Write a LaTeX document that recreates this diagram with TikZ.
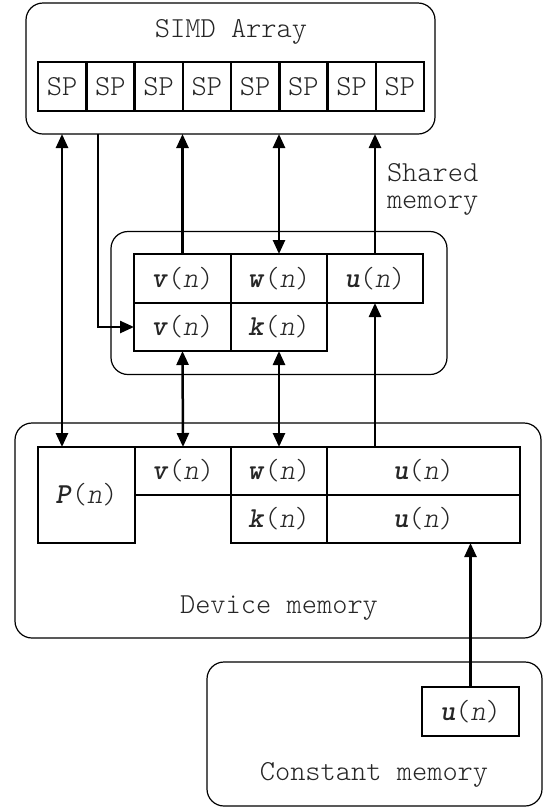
\documentclass[tikz,border=0pt]{standalone}
\usepackage{fontspec}
\setmainfont{lmmonolt10-regular}[Extension=.otf, ItalicFont=lmmonolt10-oblique, BoldFont=lmmonolt10-bold, BoldItalicFont=lmmonolt10-boldoblique]
\usetikzlibrary{arrows.meta}
\newcommand\bvn[1]{\textbf{\textit{#1}}(\textit{n})}
\begin{document}
\begin{tikzpicture}[x=1pt,y=-1pt,
  every node/.style={font=\fontsize{29}{27}\selectfont, inner sep=0pt, outer sep=0pt, text=black!85},
  cell/.style={draw, line width=2.5pt, rectangle},
  region/.style={draw, line width=1.2pt, rounded corners=17pt, rectangle},
  conn/.style={line width=2.5pt, -{Triangle[length=14pt,width=12pt]}},
  dconn/.style={line width=2.5pt, {Triangle[length=14pt,width=12pt]}-{Triangle[length=14pt,width=12pt]}}]
\fill[white] (0,0) rectangle (551,807);
\useasboundingbox (0,0) rectangle (551,807);

% SIMD array
\node[region, minimum width=409pt, minimum height=131pt] (simd) at (230.5,68.5) {};
\node (simdt) at (231,32) {SIMD Array};
\foreach \i in {1,...,8}{
  \node[cell, minimum width=48.25pt, minimum height=49pt] (sp\i) at ({38+48.25*(\i-0.5)},86.5) {SP};
}

% Shared memory
\node[region, minimum width=336pt, minimum height=143pt] (shared) at (279,303) {};
\node[anchor=west, align=left] (sharedt) at (387,189) {Shared\\memory};
\node[cell, minimum width=97pt, minimum height=49pt] (sv1) at (182.5,278.5) {\bvn{v}};
\node[cell, minimum width=96pt, minimum height=49pt] (sw) at (279,278.5) {\bvn{w}};
\node[cell, minimum width=96pt, minimum height=49pt] (su) at (375,278.5) {\bvn{u}};
\node[cell, minimum width=97pt, minimum height=48pt] (sv2) at (182.5,327) {\bvn{v}};
\node[cell, minimum width=96pt, minimum height=48pt] (sk) at (279,327) {\bvn{k}};

% Device memory
\node[region, minimum width=526pt, minimum height=215pt] (device) at (278,530.5) {};
\node (devicet) at (279,608) {Device memory};
\node[cell, minimum width=97pt, minimum height=96pt] (P) at (86.5,495) {\bvn{P}};
\node[cell, minimum width=96pt, minimum height=48pt] (dv) at (183,471) {\bvn{v}};
\node[cell, minimum width=96pt, minimum height=48pt] (dw) at (279,471) {\bvn{w}};
\node[cell, minimum width=193pt, minimum height=48pt] (du1) at (423.5,471) {\bvn{u}};
\node[cell, minimum width=96pt, minimum height=48pt] (dk) at (279,519) {\bvn{k}};
\node[cell, minimum width=193pt, minimum height=48pt] (du2) at (423.5,519) {\bvn{u}};

% Constant memory
\node[region, minimum width=335pt, minimum height=144pt] (const) at (374.5,734) {};
\node (constt) at (374,775) {Constant memory};
\node[cell, minimum width=97pt, minimum height=49pt] (cu) at (470.5,711.5) {\bvn{u}};

% Connectors
\draw[dconn] ([xshift=24pt]P.north west) -- ([xshift=24pt]P.north west |- simd.south);
\draw[conn] ([xshift=72pt]simd.south west) |- (sv2.west);
\draw[conn] (sv1.north) -- (sv1.north |- simd.south);
\draw[dconn] (sw.north) -- (sw.north |- simd.south);
\draw[conn] (su.north) -- (su.north |- simd.south);
\draw[dconn] (sv2.south) -- (dv.north);
\draw[dconn] (sk.south) -- (dw.north);
\draw[conn] (su.south |- du1.north) -- (su.south);
\draw[conn] (cu.north) -- (cu.north |- du2.south);
\end{tikzpicture}
\end{document}
